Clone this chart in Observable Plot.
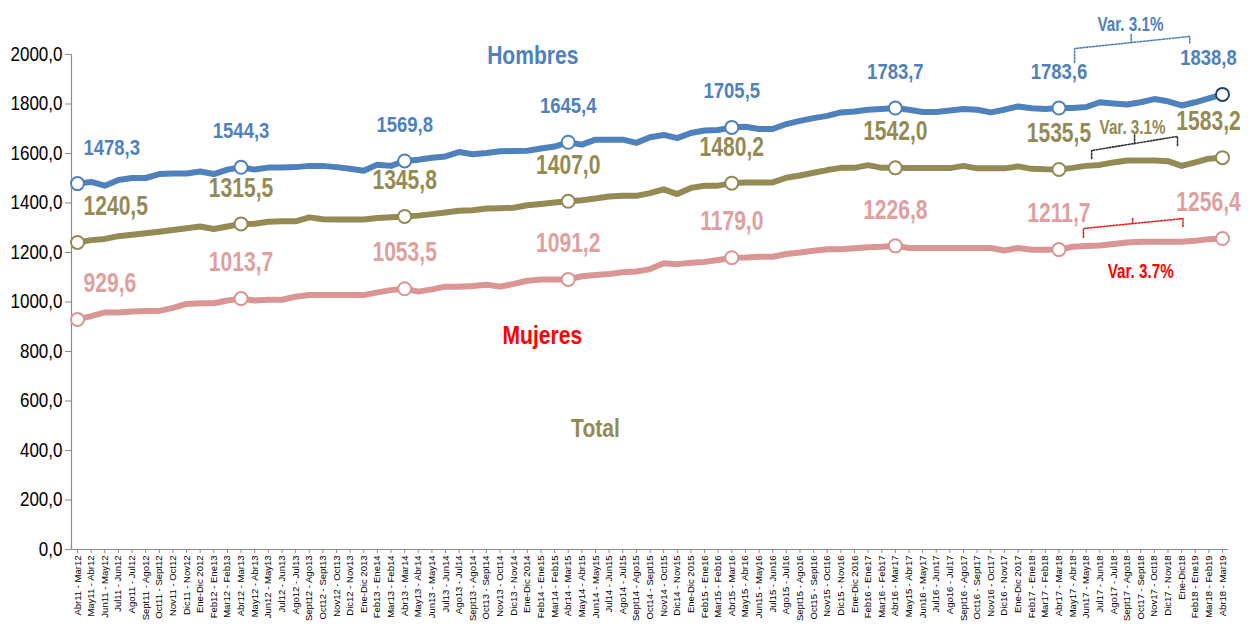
<!DOCTYPE html>
<html>
<head>
<meta charset="utf-8">
<script src="https://cdn.jsdelivr.net/npm/d3@7"></script>
<script src="https://cdn.jsdelivr.net/npm/@observablehq/plot@0.6"></script>
<style>
  html, body { margin: 0; padding: 0; background: #fff; }
  #chart svg { display: block; }
</style>
</head>
<body>
<div id="chart"></div>
<script>
const periods = [
  "Abr11 - Mar12","May11 - Abr12","Jun11 - May12","Jul11 - Jun12","Ago11 - Jul12","Sept11 - Ago12","Oct11 - Sept12","Nov11 - Oct12","Dic11 - Nov12","Ene-Dic 2012",
  "Feb12 - Ene13","Mar12 - Feb13","Abr12 - Mar13","May12 - Abr13","Jun12 - May13","Jul12 - Jun13","Ago12 - Jul13","Sept12 - Ago13","Oct12 - Sept13","Nov12 - Oct13",
  "Dic12 - Nov13","Ene-Dic 2013","Feb13 - Ene14","Mar13 - Feb14","Abr13 - Mar14","May13 - Abr14","Jun13 - May14","Jul13 - Jun14","Ago13 - Jul14","Sept13 - Ago14",
  "Oct13 - Sept14","Nov13 - Oct14","Dic13 - Nov14","Ene-Dic 2014","Feb14 - Ene15","Mar14 - Feb15","Abr14 - Mar15","May14 - Abr15","Jun14 - May15","Jul14 - Jun15",
  "Ago14 - Jul15","Sept14 - Ago15","Oct14 - Sept15","Nov14 - Oct15","Dic14 - Nov15","Ene-Dic 2015","Feb15 - Ene16","Mar15 - Feb16","Abr15 - Mar16","May15 - Abr16",
  "Jun15 - May16","Jul15 - Jun16","Ago15 - Jul16","Sept15 - Ago16","Oct15 - Sept16","Nov15 - Oct16","Dic15 - Nov16","Ene-Dic 2016","Feb16 - Ene17","Mar16 - Feb17",
  "Abr16 - Mar17","May15 - Abr17","Jun16 - May17","Jul16 - Jun17","Ago16 - Jul17","Sept16 - Ago17","Oct16 - Sept17","Nov16 - Oct17","Dic16 - Nov17","Ene-Dic 2017",
  "Feb17 - Ene18","Mar17 - Feb18","Abr17 - Mar18","May17 - Abr18","Jun17 - May18","Jul17 - Jun18","Ago17 - Jul18","Sept17 - Ago18","Oct17 - Sept18","Nov17 - Oct18",
  "Dic17 - Nov18","Ene-Dic18","Feb18 - Ene19","Mar18 - Feb19","Abr18 - Mar19"
];

const hombres = [
  1478.3,1485,1470,1493,1501,1501,1517,1519,1519,1527,1517,1535,1544.3,
  1535,1543,1543,1545,1550,1550,1545,1538,1530,1555,1550,1569.8,
  1575,1583,1588,1606,1597,1602,1609,1610,1611,1620,1628,1645.4,
  1636,1656,1656,1656,1643,1666,1675,1662,1683,1693,1695,1705.5,
  1708,1699,1699,1719,1732,1743,1752,1766,1770,1777,1780,1783.7,
  1777,1768,1768,1774,1780,1777,1766,1777,1790,1783,1780,1783.6,
  1784,1788,1807,1802,1798,1807,1820,1811,1794,1807,1823,1838.8
];

const total = [
  1240.5,1250,1255,1266,1272,1278,1284,1291,1298,1305,1295,1305,1315.5,
  1316,1324,1326,1326,1342,1334,1333,1333,1333,1339,1342,1345.8,
  1349,1355,1362,1369,1371,1378,1379,1381,1391,1396,1402,1407.0,
  1411,1418,1426,1429,1429,1440,1455,1436,1461,1470,1470,1480.2,
  1483,1483,1483,1502,1511,1522,1533,1542,1542,1553,1542,1542.0,
  1541,1541,1541,1541,1550,1540,1540,1540,1548,1538,1536,1535.5,
  1542,1550,1554,1564,1572,1572,1572,1569,1550,1564,1579,1583.2
];

const mujeres = [
  929.6,943,958,958,962,964,964,976,992,995,995,1006,1013.7,
  1006,1009,1009,1021,1028,1028,1028,1028,1028,1039,1048,1053.5,
  1042,1051,1062,1062,1065,1070,1062,1073,1086,1091,1091,1091.2,
  1104,1109,1113,1120,1123,1133,1157,1153,1159,1162,1170,1179.0,
  1180,1183,1183,1194,1200,1207,1213,1213,1217,1221,1223,1226.8,
  1218,1218,1218,1218,1218,1218,1218,1208,1218,1211,1211,1211.7,
  1223,1226,1228,1234,1240,1243,1243,1243,1243,1247,1254,1256.4
];

const markedPeriods = ["Abr11 - Mar12","Abr12 - Mar13","Abr13 - Mar14","Abr14 - Mar15","Abr15 - Mar16","Abr16 - Mar17","Abr17 - Mar18","Abr18 - Mar19"];
const yTicks = [0,200,400,600,800,1000,1200,1400,1600,1800,2000];

const seriesTitleAt = [
  {name:"Hombres", at:"Ene-Dic 2014",  v:1996},
  {name:"Mujeres", at:"Feb14 - Ene15", v:865},
  {name:"Total",   at:"Jun14 - May15", v:489}
];

// variation annotations (text + bracket, expressed in data space)
const variations = [
  {text:"Var. 3.1%", series:"Hombres", x0:73.15, x1:81.6, xm:77.3, foot0:1968, top0:2024, top1:2073, foot1:2044, tickLo:2048, tickHi:2085, tx:77.25, ty:2121},
  {text:"Var. 3.1%", series:"Total",   x0:74.4,  x1:80.7, xm:77.55, foot0:1580, top0:1612, top1:1669, foot1:1632, tickLo:1640, tickHi:1681, tx:77.4, ty:1705},
  {text:"Var. 3.7%", series:"Mujeres", x0:73.8,  x1:81.1, xm:77.4, foot0:1261, top0:1297, top1:1337, foot1:1301, tickLo:1317, tickHi:1341, tx:78.0, ty:1123}
];

// ---- styling ----
const sans = "'Liberation Sans',Arial,sans-serif";
const styles = {
  Hombres: {line:"#4f81bd", label:"#4f81bd", title:"#4f81bd", size:22, squeeze:0.84, varText:"#4f81bd", bracket:"#4f81bd", lastRing:"#24446e"},
  Total:   {line:"#948a54", label:"#948a54", title:"#948a54", size:27, squeeze:0.78, varText:"#948a54", bracket:"#333333", lastRing:"#948a54"},
  Mujeres: {line:"#d99694", label:"#e0a0a0", title:"#ff0000", size:27, squeeze:0.78, varText:"#ff0000", bracket:"#e02020", lastRing:"#d99694"}
};
const titleNudge = {Hombres: 0.4, Mujeres: 0.1, Total: 0.0};
const values = {Hombres: hombres, Total: total, Mujeres: mujeres};
const fmt = v => v.toFixed(1).replace(".", ",");
const idx = d3.range(periods.length);
const marked = markedPeriods.map(p => periods.indexOf(p));
const xDomain = [-0.44, periods.length - 1 + 0.44];
const squeezeOf = new Map(); // class -> horizontal compression

const marks = [
  Plot.ruleY([0], {stroke:"#8c8c8c", strokeWidth:1.2}),
  Plot.ruleX([xDomain[0]], {stroke:"#8c8c8c", strokeWidth:1.2}),
  Plot.axisY({ticks: yTicks, tickFormat: fmt, tickSize: 6, tickPadding: 3, fontSize: 20, stroke:"#8c8c8c", fill:"#000", label:null, fontFamily: sans, className:"sq-yaxis"}),
  Plot.axisX({ticks: idx, tickFormat: i => periods[i], tickRotate: -90, tickSize: 4, tickPadding: 2, fontSize: 9.5, stroke:"#8c8c8c", fill:"#000", label:null, fontFamily: sans})
];
squeezeOf.set("sq-yaxis", 0.85);

for (const name of ["Mujeres","Total","Hombres"]) {
  const s = styles[name], vals = values[name];
  const cls = "sq-" + name;
  squeezeOf.set(cls, s.squeeze);
  marks.push(Plot.line(idx, {x: i => i, y: i => vals[i], stroke: s.line, strokeWidth: 6, strokeLinejoin:"round", strokeLinecap:"round"}));
  const first = marked.slice(0, 1), mid = marked.slice(1, -1), last = marked.slice(-1);
  marks.push(Plot.dot(marked.slice(0, -1), {x: i => i, y: i => vals[i], r: 6.5, fill:"white", stroke: s.line, strokeWidth: 2}));
  marks.push(Plot.dot(last, {x: i => i, y: i => vals[i], r: 6.5, fill:"white", stroke: s.lastRing, strokeWidth: 2}));
  const common = {y: i => vals[i], x: i => i, text: i => fmt(vals[i]), fill: s.label, fontSize: s.size, fontWeight: "bold", fontFamily: sans, dy: -36, className: cls};
  marks.push(Plot.text(first, {...common, textAnchor:"start", dx: 6}));
  marks.push(Plot.text(mid, {...common}));
  marks.push(Plot.text(last, {...common, dx: -14}));
}

squeezeOf.set("sq-title", 0.81);
for (const t of seriesTitleAt) {
  marks.push(Plot.text([t], {x: d => periods.indexOf(d.at) + titleNudge[d.name], y: d => d.v, text: d => d.name, fill: styles[t.name].title, fontSize: 26, fontWeight:"bold", fontFamily: sans, className:"sq-title"}));
}

squeezeOf.set("sq-var", 0.76);
for (const v of variations) {
  const s = styles[v.series];
  marks.push(Plot.line([[v.x0, v.foot0],[v.x0, v.top0],[v.x1, v.top1],[v.x1, v.foot1]], {x: d => d[0], y: d => d[1], stroke: s.bracket, strokeWidth: 1.6, strokeDasharray: "1.6,1.6"}));
  marks.push(Plot.line([[v.xm, v.tickLo],[v.xm, v.tickHi]], {x: d => d[0], y: d => d[1], stroke: s.bracket, strokeWidth: 1.6, strokeDasharray: "1.6,1.6"}));
  marks.push(Plot.text([v], {x: d => d.tx, y: d => d.ty, text: d => d.text, fill: s.varText, fontSize: 20, fontWeight: "bold", fontFamily: sans, className:"sq-var"}));
}

const chart = Plot.plot({
  width: 1249,
  height: 637,
  marginLeft: 71,
  marginRight: 21,
  marginTop: 54,
  marginBottom: 88,
  style: {background: "white", fontFamily: sans, overflow: "visible"},
  x: {type: "linear", domain: xDomain, axis: null},
  y: {domain: [0, 2000], axis: null},
  marks
});
document.getElementById("chart").append(chart);

// emulate the narrow (Arial Narrow–like) typeface by compressing glyphs horizontally
for (const [cls, k] of squeezeOf) {
  chart.querySelectorAll("." + cls + " text").forEach(el => {
    const L = el.getComputedTextLength();
    el.setAttribute("textLength", (L * k).toFixed(2));
    el.setAttribute("lengthAdjust", "spacingAndGlyphs");
  });
}
</script>
</body>
</html>
